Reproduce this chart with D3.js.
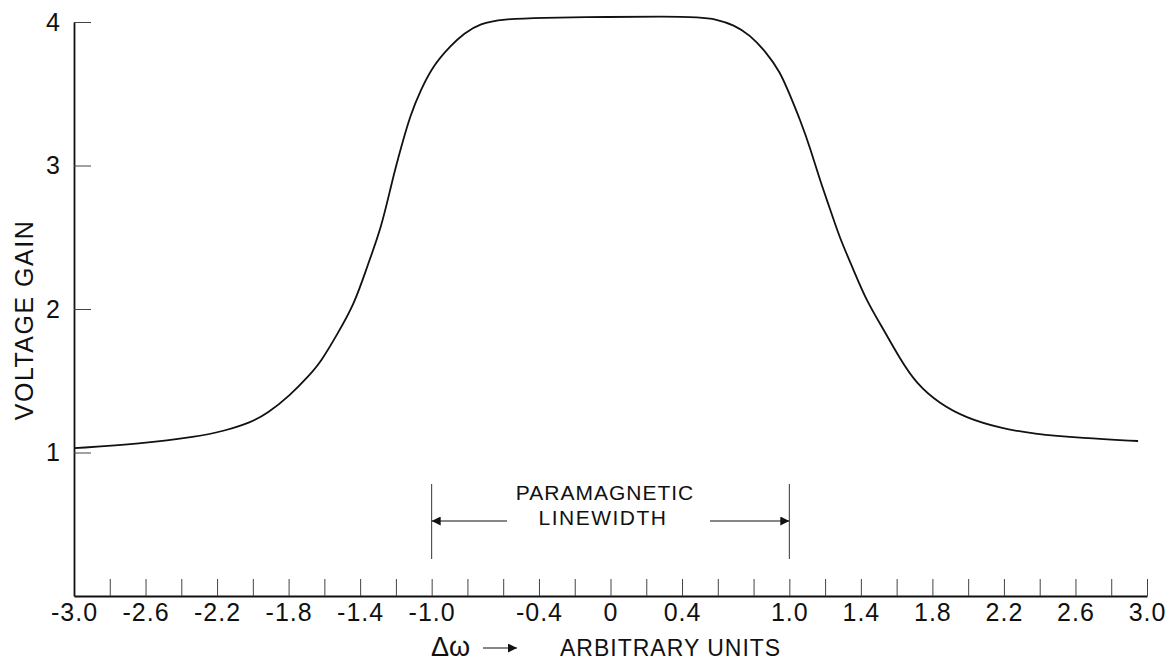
<!DOCTYPE html>
<html>
<head>
<meta charset="utf-8">
<script src="https://cdn.jsdelivr.net/npm/d3@7"></script>
<style>
  body { margin: 0; background: #fff; }
  text { font-family: "Liberation Sans", Arial, sans-serif; fill: #111; }
  .axis path { stroke: #111; stroke-width: 1.8; }
  .axis line { stroke: #444; stroke-width: 1; }
  .axis text { font-size: 25px; letter-spacing: 1px; }
</style>
</head>
<body>
<div class="chart"></div>
<script>
// data
var gainX = [-3.0, -2.63, -2.31, -2.16, -2.01, -1.92, -1.79, -1.69, -1.62, -1.53,
  -1.43, -1.36, -1.28, -1.22, -1.17, -1.12, -1.06, -0.99, -0.89, -0.82,
  -0.73, -0.6, -0.4, 0, 0.3, 0.5, 0.59, 0.69, 0.78, 0.87,
  0.95, 1.0, 1.06, 1.12, 1.17, 1.23, 1.28, 1.36, 1.43, 1.53,
  1.62, 1.71, 1.84, 1.99, 2.18, 2.36, 2.64, 2.95];
var gainY = [1.03, 1.06, 1.11, 1.15, 1.21, 1.27, 1.40, 1.53, 1.63, 1.82,
  2.04, 2.30, 2.57, 2.90, 3.13, 3.35, 3.53, 3.70, 3.84, 3.92,
  3.99, 4.02, 4.03, 4.035, 4.04, 4.033, 4.02, 3.98, 3.91, 3.79,
  3.65, 3.50, 3.32, 3.11, 2.90, 2.69, 2.50, 2.27, 2.06, 1.85,
  1.65, 1.48, 1.34, 1.24, 1.17, 1.13, 1.10, 1.08];
var xLabels = [-3.0, -2.6, -2.2, -1.8, -1.4, -1.0, -0.4, 0, 0.4, 1.0, 1.4, 1.8, 2.2, 2.6, 3.0];
var yTicks = [1, 2, 3, 4];
var linewidthBounds = [-1.0, 1.0];

// dimensions
var W = 1169, H = 664;

var x = d3.scaleLinear().domain([-3, 3]).range([74, 1147]);
var y = d3.scaleLinear().domain([0, 4]).range([596, 22]);

var svg = d3.select(".chart").append("svg")
  .attr("width", W)
  .attr("height", H);

var defs = svg.append("defs");
defs.append("marker")
  .attr("id", "head")
  .attr("viewBox", "0 0 10 10")
  .attr("refX", 10).attr("refY", 5)
  .attr("markerWidth", 13).attr("markerHeight", 9)
  .attr("markerUnits", "userSpaceOnUse")
  .attr("orient", "auto")
  .append("path")
  .attr("d", "M0,0L10,5L0,10Z")
  .attr("fill", "#111");

// x axis, minor ticks every 0.2
var minor = d3.range(-3, 3.001, 0.2);
var xAxis = d3.axisBottom(x)
  .tickValues(minor)
  .tickSizeInner(-17)
  .tickSizeOuter(0)
  .tickPadding(7)
  .tickFormat(function(d) {
    var hit = xLabels.find(function(v) { return Math.abs(v - d) < 1e-6; });
    if (hit === undefined) return "";
    return hit === 0 ? "0" : hit.toFixed(1);
  });
svg.append("g")
  .attr("class", "axis")
  .attr("transform", "translate(0," + y(0) + ")")
  .call(xAxis);

// y axis, ticks point inward
var yAxis = d3.axisLeft(y)
  .tickValues(yTicks)
  .tickSizeInner(-17)
  .tickSizeOuter(0)
  .tickPadding(13)
  .tickFormat(d3.format("d"));
svg.append("g")
  .attr("class", "axis")
  .attr("transform", "translate(" + x(-3) + ",0)")
  .call(yAxis);

// curve (basis smooths out reading noise)
var pts = gainX.map(function(d, i) { return [d, gainY[i]]; });
var line = d3.line()
  .x(function(d) { return x(d[0]); })
  .y(function(d) { return y(d[1]); })
  .curve(d3.curveBasis);
svg.append("path")
  .datum(pts)
  .attr("d", line)
  .attr("fill", "none")
  .attr("stroke", "#111")
  .attr("stroke-width", 1.8);

// paramagnetic linewidth annotation
svg.selectAll(".bound")
  .data(linewidthBounds)
  .enter().append("line")
  .attr("class", "bound")
  .attr("x1", function(d) { return x(d); })
  .attr("x2", function(d) { return x(d); })
  .attr("y1", 484)
  .attr("y2", 559)
  .attr("stroke", "#333")
  .attr("stroke-width", 1);

svg.append("line")
  .attr("x1", 507).attr("x2", x(linewidthBounds[0]))
  .attr("y1", 521).attr("y2", 521)
  .attr("stroke", "#111").attr("stroke-width", 1.2)
  .attr("marker-end", "url(#head)");
svg.append("line")
  .attr("x1", 710).attr("x2", x(linewidthBounds[1]))
  .attr("y1", 521).attr("y2", 521)
  .attr("stroke", "#111").attr("stroke-width", 1.2)
  .attr("marker-end", "url(#head)");

svg.append("text")
  .attr("x", 605).attr("y", 500)
  .attr("text-anchor", "middle")
  .style("font-size", "21px").style("letter-spacing", "1px")
  .text("PARAMAGNETIC");
svg.append("text")
  .attr("x", 603).attr("y", 525)
  .attr("text-anchor", "middle")
  .style("font-size", "21px").style("letter-spacing", "1.5px")
  .text("LINEWIDTH");

// y label
svg.append("text")
  .attr("transform", "translate(33,320) rotate(-90)")
  .attr("text-anchor", "middle")
  .style("font-size", "25px").style("letter-spacing", "1.5px")
  .text("VOLTAGE  GAIN");

// x label
svg.append("text")
  .attr("x", 431).attr("y", 656)
  .style("font-size", "27px")
  .text("\u0394\u03c9");
svg.append("line")
  .attr("x1", 483).attr("x2", 517)
  .attr("y1", 648).attr("y2", 648)
  .attr("stroke", "#111").attr("stroke-width", 1.2)
  .attr("marker-end", "url(#head)");
svg.append("text")
  .attr("x", 560).attr("y", 656)
  .style("font-size", "23px").style("letter-spacing", "1px")
  .text("ARBITRARY UNITS");
</script>
</body>
</html>
